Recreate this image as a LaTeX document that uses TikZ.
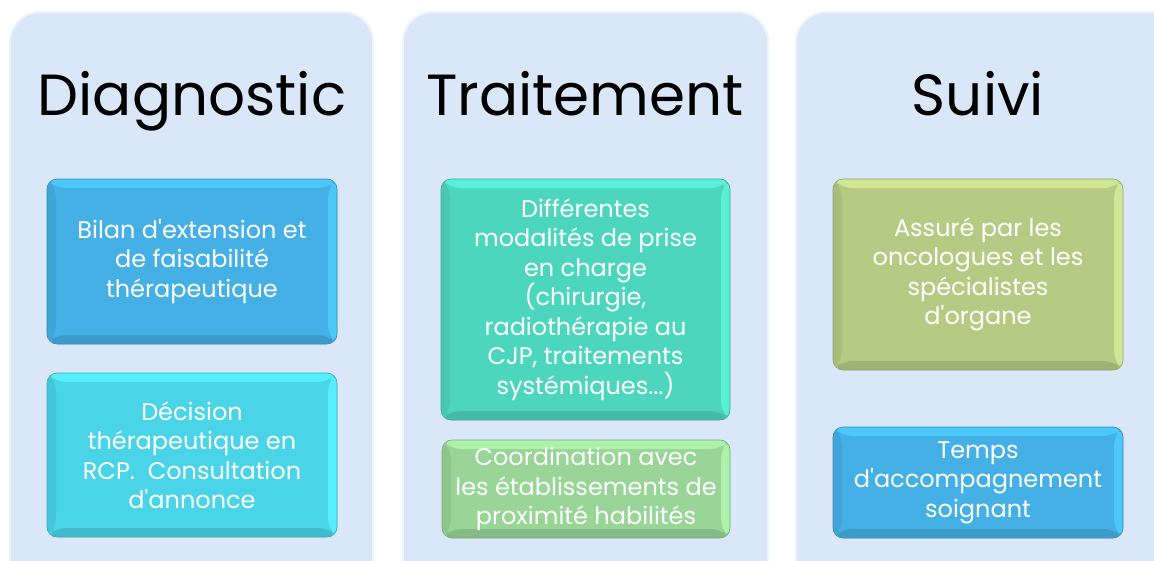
\documentclass[tikz,border=0pt]{standalone}
\usepackage{fontspec}
\setmainfont{Poppins}[Ligatures=TeXOff]
\definecolor{panelc}{HTML}{DAE7F8}
\definecolor{pedge}{HTML}{EEF4FC}
\definecolor{cblue}{HTML}{45B0E6}
\definecolor{cbluel}{HTML}{4CC8F8}
\definecolor{ccyan}{HTML}{4AD4E8}
\definecolor{ccyanl}{HTML}{55EEFB}
\definecolor{cteal}{HTML}{4DD6BE}
\definecolor{ctealL}{HTML}{5AF0D8}
\definecolor{cgreen}{HTML}{98D597}
\definecolor{cgreenl}{HTML}{ADF2AA}
\definecolor{colive}{HTML}{B5CB84}
\definecolor{colivel}{HTML}{D0E894}
\newcommand{\boxfont}{\fontsize{24}{29.5}\selectfont}
\newcommand{\titlefont}{\fontsize{58}{62}\selectfont}
\tikzset{
  panel/.style={rounded corners=30pt, fill=panelc, draw=pedge, line width=2pt},
  title/.style={anchor=base, font=\titlefont, text=black, inner sep=0pt},
  bevel/.style 2 args={rounded corners=10pt, fill=#1, draw=#1!80!black, line width=0.6pt,
    text=white, align=center, font=\boxfont, inner sep=0pt,
    path picture={
      \fill[#2] (path picture bounding box.north west) -- (path picture bounding box.north east)
        -- ([xshift=-9pt,yshift=-9pt]path picture bounding box.north east)
        -- ([xshift=9pt,yshift=-9pt]path picture bounding box.north west) -- cycle;
      \fill[#2] (path picture bounding box.north east) -- (path picture bounding box.south east)
        -- ([xshift=-9pt,yshift=9pt]path picture bounding box.south east)
        -- ([xshift=-9pt,yshift=-9pt]path picture bounding box.north east) -- cycle;
      \fill[#1!88!black] (path picture bounding box.south west) -- (path picture bounding box.south east)
        -- ([xshift=-9pt,yshift=9pt]path picture bounding box.south east)
        -- ([xshift=9pt,yshift=9pt]path picture bounding box.south west) -- cycle;
      \fill[#1!93!black] (path picture bounding box.north west) -- (path picture bounding box.south west)
        -- ([xshift=9pt,yshift=9pt]path picture bounding box.south west)
        -- ([xshift=9pt,yshift=-9pt]path picture bounding box.north west) -- cycle;
    }},
}
\begin{document}
\begin{tikzpicture}[x=1pt,y=-1pt]
\useasboundingbox (0,0) rectangle (1154,560);
\clip (0,0) rectangle (1154,560);
\fill[white] (0,0) rectangle (1154,560);
% panels
\draw[panel] (10,12) rectangle (373,600);
\draw[panel] (403,12) rectangle (768,600);
\draw[panel] (796,12) rectangle (1190,600);
% titles
\node[title] (t1) at (192,115) {Diagnostic};
\node[title] (t2) at (585,115) {Traitement};
\node[title] (t3) at (978,115) {Suivi};
% boxes
\node[bevel={cblue}{cbluel}, minimum width=290pt, minimum height=165pt] (d1) at (192,261.5)
  {Bilan d'extension et\\de faisabilité\\thérapeutique};
\node[bevel={ccyan}{ccyanl}, minimum width=290pt, minimum height=164pt] (d2) at (192,455)
  {Décision\\thérapeutique en\\RCP.\ \ Consultation\\d'annonce};
\node[bevel={cteal}{ctealL}, minimum width=289pt, minimum height=241pt] (r1) at (585.5,299.5)
  {Différentes\\modalités de prise\\en charge\\(chirurgie,\\radiothérapie au\\CJP, traitements\\systémiques...)};
\node[bevel={cgreen}{cgreenl}, minimum width=288pt, minimum height=98pt] (r2) at (586,489)
  {Coordination avec\\les établissements de\\proximité habilités};
\node[bevel={colive}{colivel}, minimum width=290pt, minimum height=191pt] (s1) at (978,274.5)
  {Assuré par les\\oncologues et les\\spécialistes\\d'organe};
\node[bevel={cblue}{cbluel}, minimum width=290pt, minimum height=111pt] (s2) at (978,482.5)
  {Temps\\d'accompagnement\\soignant};
\end{tikzpicture}
\end{document}
